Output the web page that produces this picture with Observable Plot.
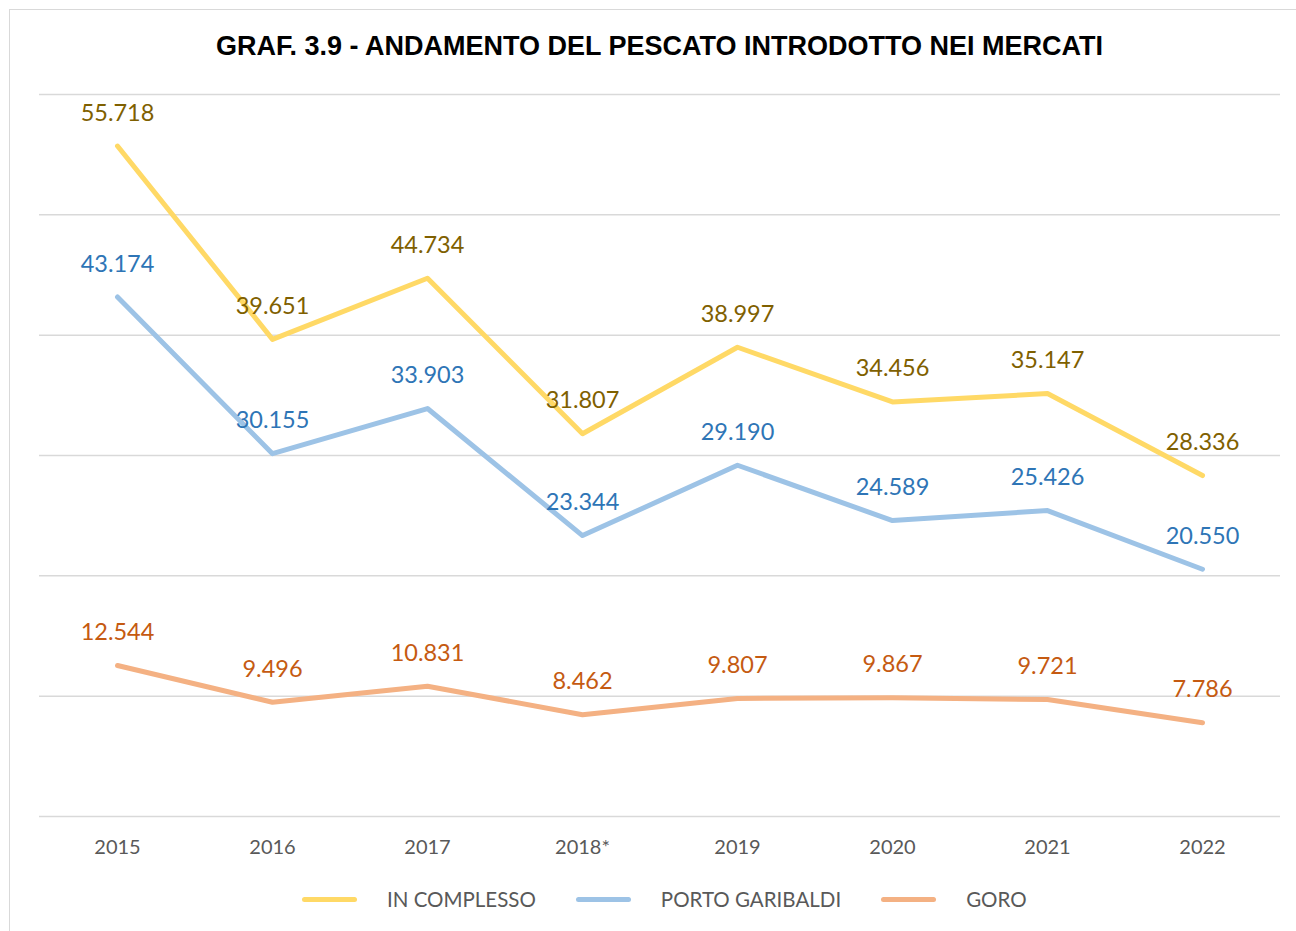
<!DOCTYPE html>
<html>
<head>
<meta charset="utf-8">
<script src="https://cdn.jsdelivr.net/npm/d3@7"></script>
<script src="https://cdn.jsdelivr.net/npm/@observablehq/plot@0.6"></script>
<style>
  html, body { margin: 0; padding: 0; background: #fff; overflow: hidden; }
  body { width: 1296px; height: 931px; position: relative; }
  #frame { position: absolute; left: 9px; top: 9px; width: 1400px; height: 1000px; border: 1.5px solid #d9d9d9; box-sizing: border-box; }
  #title { position: absolute; left: 39px; width: 1241px; top: 28px; text-align: center;
    font-family: "Liberation Sans", Arial, sans-serif; font-weight: bold; font-size: 27px; color: #000; line-height: 36px; }
  #chart { position: absolute; left: 0; top: 80px; }
  #legend { position: absolute; left: 302px; top: 884px; height: 30px; display: flex; align-items: center;
    font-family: Lato, "Open Sans", sans-serif; font-size: 20.5px; color: #595959; }
  .sw { width: 55px; height: 5px; border-radius: 3px; margin-right: 30px; }
  .lab { margin-right: 40px; }
</style>
</head>
<body>
<div id="frame"></div>
<div id="title">GRAF. 3.9 - ANDAMENTO DEL PESCATO INTRODOTTO NEI MERCATI</div>
<div id="chart"></div>
<div id="legend"></div>
<script>
const years = ["2015", "2016", "2017", "2018*", "2019", "2020", "2021", "2022"];
const complesso = [55718, 39651, 44734, 31807, 38997, 34456, 35147, 28336];
const porto = [43174, 30155, 33903, 23344, 29190, 24589, 25426, 20550];
const goro = [12544, 9496, 10831, 8462, 9807, 9867, 9721, 7786];
const seriesNames = ["IN COMPLESSO", "PORTO GARIBALDI", "GORO"];
const lineColors = ["#FFD966", "#9DC3E6", "#F4B183"];
const labelColors = ["#7F6000", "#2E75B6", "#C55A11"];
const yTicks = [0, 10000, 20000, 30000, 40000, 50000, 60000];

const seriesValues = [complesso, porto, goro];
const data = [];
seriesValues.forEach((vals, s) => {
  vals.forEach((v, i) => data.push({year: years[i], value: v, series: seriesNames[s]}));
});
const itFmt = d3.formatLocale({decimal: ",", thousands: ".", grouping: [3], currency: ["", "€"]}).format(",d");
const labelColorOf = Object.fromEntries(seriesNames.map((n, i) => [n, labelColors[i]]));

const chart = Plot.plot({
  width: 1296,
  height: 790,
  marginLeft: 39,
  marginRight: 16,
  marginTop: 14,
  marginBottom: 54,
  style: {background: "transparent", fontFamily: "Lato, 'Open Sans', sans-serif"},
  x: {type: "point", domain: years, padding: 0.5, label: null},
  y: {domain: [0, 60000], axis: null},
  color: {domain: seriesNames, range: lineColors},
  marks: [
    Plot.ruleY(yTicks, {stroke: "#d9d9d9", strokeWidth: 1.5}),
    Plot.axisX({tickSize: 0, tickPadding: 23, fontSize: 20, fill: "#595959", label: null, fontFamily: "Lato, 'Open Sans', sans-serif"}),
    Plot.line(data, {x: "year", y: "value", z: "series", stroke: "series", strokeWidth: 5, strokeLinecap: "round", strokeLinejoin: "round"}),
    Plot.text(data, {x: "year", y: "value", text: d => itFmt(d.value), dy: -33, fontSize: 23.5,
      fill: d => labelColorOf[d.series], fontFamily: "Lato, 'Open Sans', sans-serif"})
  ]
});
document.getElementById("chart").appendChild(chart);

const legend = document.getElementById("legend");
seriesNames.forEach((n, i) => {
  const sw = document.createElement("div");
  sw.className = "sw";
  sw.style.background = lineColors[i];
  legend.appendChild(sw);
  const lab = document.createElement("div");
  lab.className = "lab";
  lab.textContent = n;
  legend.appendChild(lab);
});
</script>
</body>
</html>
